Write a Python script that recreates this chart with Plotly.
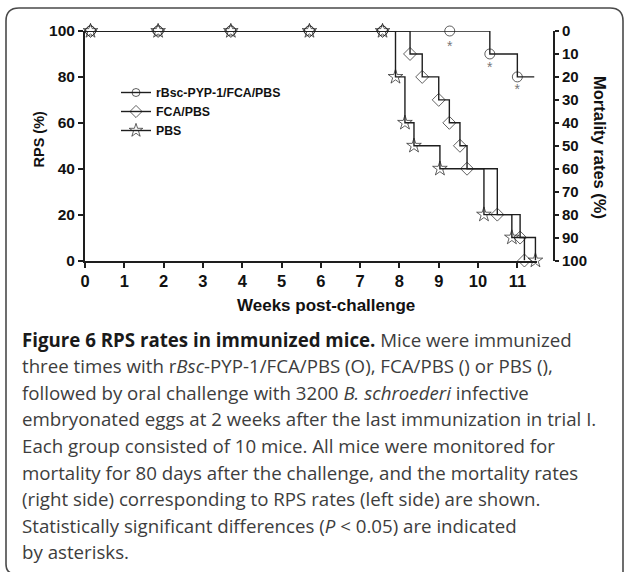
import plotly.graph_objects as go

W, H = 624, 572

# ---------------- data ----------------
week_ticks = list(range(0, 12))
rps_ticks = [0, 20, 40, 60, 80, 100]
mort_ticks = list(range(0, 101, 10))

series_names = ["rBsc-PYP-1/FCA/PBS", "FCA/PBS", "PBS"]

rbsc_x = [0, 0.14, 1.86, 3.71, 5.71, 7.57, 9.28, 10.30, 11.00, 11.43]
rbsc_y = [100, 100, 100, 100, 100, 100, 100, 90, 80, 80]
rbsc_has_symbol = [0, 1, 1, 1, 1, 1, 1, 1, 1, 0]

fca_x = [0, 0.14, 1.86, 3.71, 5.71, 7.57, 8.27, 8.58, 9.00, 9.27, 9.54, 9.72, 10.49, 11.07, 11.18]
fca_y = [100, 100, 100, 100, 100, 100, 90, 80, 70, 60, 50, 40, 20, 10, 0]
fca_has_symbol = [0] + [1] * 14

pbs_x = [0, 0.14, 1.86, 3.71, 5.71, 7.57, 7.90, 8.14, 8.37, 9.03, 10.15, 10.86, 11.46]
pbs_y = [100, 100, 100, 100, 100, 100, 80, 60, 50, 40, 20, 10, 0]
pbs_has_symbol = [0] + [1] * 12

sig_x = [9.28, 10.30, 11.00]
sig_y = [93.0, 83.5, 74.0]

caption_lines = [
    "<b><span style='color:#1a1a1a'>Figure 6 RPS rates in immunized mice.</span></b> Mice were immunized",
    "three times with r<i>Bsc</i>-PYP-1/FCA/PBS (O), FCA/PBS () or PBS (),",
    "followed by oral challenge with 3200 <i>B. schroederi</i> infective",
    "embryonated eggs at 2 weeks after the last immunization in trial I.",
    "Each group consisted of 10 mice. All mice were monitored for",
    "mortality for 80 days after the challenge, and the mortality rates",
    "(right side) corresponding to RPS rates (left side) are shown.",
    "Statistically significant differences (<i>P</i> &lt; 0.05) are indicated",
    "by asterisks.",
]

# ---------------- layout helpers ----------------
def px(x):
    return x / W

def py(y):
    return 1 - y / H

AX_FONT = "Liberation Sans"
LINE_COL = "#1e1e1e"

x_left, x_right = 85, 537
y_top, y_bot = 31, 260.5

fig = go.Figure()

specs = [
    (rbsc_x, rbsc_y, rbsc_has_symbol, "circle-open", 10),
    (fca_x, fca_y, fca_has_symbol, "diamond-open", 10),
    (pbs_x, pbs_y, pbs_has_symbol, "star-open", 11),
]
for name, (xs, ys, flags, sym, sz) in zip(series_names, specs):
    fig.add_trace(go.Scatter(
        x=xs, y=ys, name=name, mode="lines+markers",
        line=dict(shape="hv", color=LINE_COL, width=1.4),
        marker=dict(symbol=sym, size=[sz if f else 0 for f in flags],
                    color=LINE_COL, line=dict(width=1, color=LINE_COL)),
        cliponaxis=False,
    ))

fig.add_trace(go.Scatter(
    x=sig_x, y=sig_y, mode="text", text=["*"] * len(sig_x),
    textfont=dict(family=AX_FONT, size=14, color="#777777"),
    showlegend=False, cliponaxis=False,
))

# right axis dummy trace so the axis is drawn
fig.add_trace(go.Scatter(x=[None], y=[None], yaxis="y2", showlegend=False))

axis_common = dict(
    showline=True, linecolor=LINE_COL, linewidth=2, ticks="outside",
    ticklen=5, tickwidth=2, tickcolor=LINE_COL, showgrid=False,
    zeroline=False, automargin=False,
)

fig.update_layout(
    width=W, height=H,
    margin=dict(l=0, r=0, t=0, b=0),
    paper_bgcolor="white", plot_bgcolor="white",
    showlegend=True,
    legend=dict(
        x=px(116), y=py(78), xanchor="left", yanchor="top",
        font=dict(family=AX_FONT, size=12.3, color="#111111", weight="bold"),
        bgcolor="rgba(0,0,0,0)", tracegroupgap=0, itemwidth=30,
    ),
    xaxis=dict(
        domain=[px(x_left), px(x_right)], range=[0, 11.5],
        tickvals=week_ticks, anchor="y",
        tickfont=dict(family=AX_FONT, size=16.5, color="#111111", weight="bold"),
        **axis_common,
    ),
    yaxis=dict(
        domain=[py(y_bot), py(y_top)], range=[0, 100],
        tickvals=rps_ticks, anchor="x",
        tickfont=dict(family=AX_FONT, size=15.5, color="#111111", weight="bold"),
        **axis_common,
    ),
    yaxis2=dict(
        domain=[py(y_bot), py(y_top)], range=[100, 0],
        tickvals=mort_ticks, overlaying="y", side="right",
        anchor="free", position=px(554),
        tickfont=dict(family=AX_FONT, size=15, color="#111111", weight="bold"),
        showline=True, linecolor=LINE_COL, linewidth=2, ticks="outside",
        ticklen=4, tickwidth=2, tickcolor=LINE_COL, showgrid=False,
        zeroline=False, automargin=False,
    ),
)

annots = [
    dict(text="<b>RPS (%)</b>", x=px(38.5), y=py(139), textangle=-90,
         font=dict(family=AX_FONT, size=14.5, color="#111111")),
    dict(text="<b>Mortality rates (%)</b>", x=px(600), y=py(147), textangle=90,
         font=dict(family=AX_FONT, size=16.5, color="#111111")),
    dict(text="<b>Weeks post-challenge</b>", x=px(326), y=py(305.5),
         font=dict(family=AX_FONT, size=17, color="#111111")),
]
for a in annots:
    a.update(xref="paper", yref="paper", showarrow=False,
             xanchor="center", yanchor="middle")
    fig.add_annotation(**a)

cap_top = 339
cap_step = 26.6
for i, line in enumerate(caption_lines):
    fig.add_annotation(
        text=line, xref="paper", yref="paper",
        x=px(20), y=py(cap_top + i * cap_step),
        xanchor="left", yanchor="middle", showarrow=False, align="left",
        font=dict(family="Open Sans", size=18.7, color="#3d3d3d"),
    )

# rounded frame
L, T, R, B = 6, 8, 623, 574
r1, r2 = 13, 10
path = (
    f"M {px(L)},{py(B - r2)} L {px(L)},{py(T + r1)} "
    f"Q {px(L)},{py(T)} {px(L + r1)},{py(T)} "
    f"L {px(R - r1)},{py(T)} Q {px(R)},{py(T)} {px(R)},{py(T + r1)} "
    f"L {px(R)},{py(B)} "
    f"M {px(L)},{py(B - r2)} Q {px(L)},{py(B)} {px(L + r2)},{py(B)} L {px(R)},{py(B)}"
)
fig.add_shape(type="path", path=path, xref="paper", yref="paper",
              line=dict(color="#4a4a4a", width=1.6), layer="above")

fig.write_html("out.html")
